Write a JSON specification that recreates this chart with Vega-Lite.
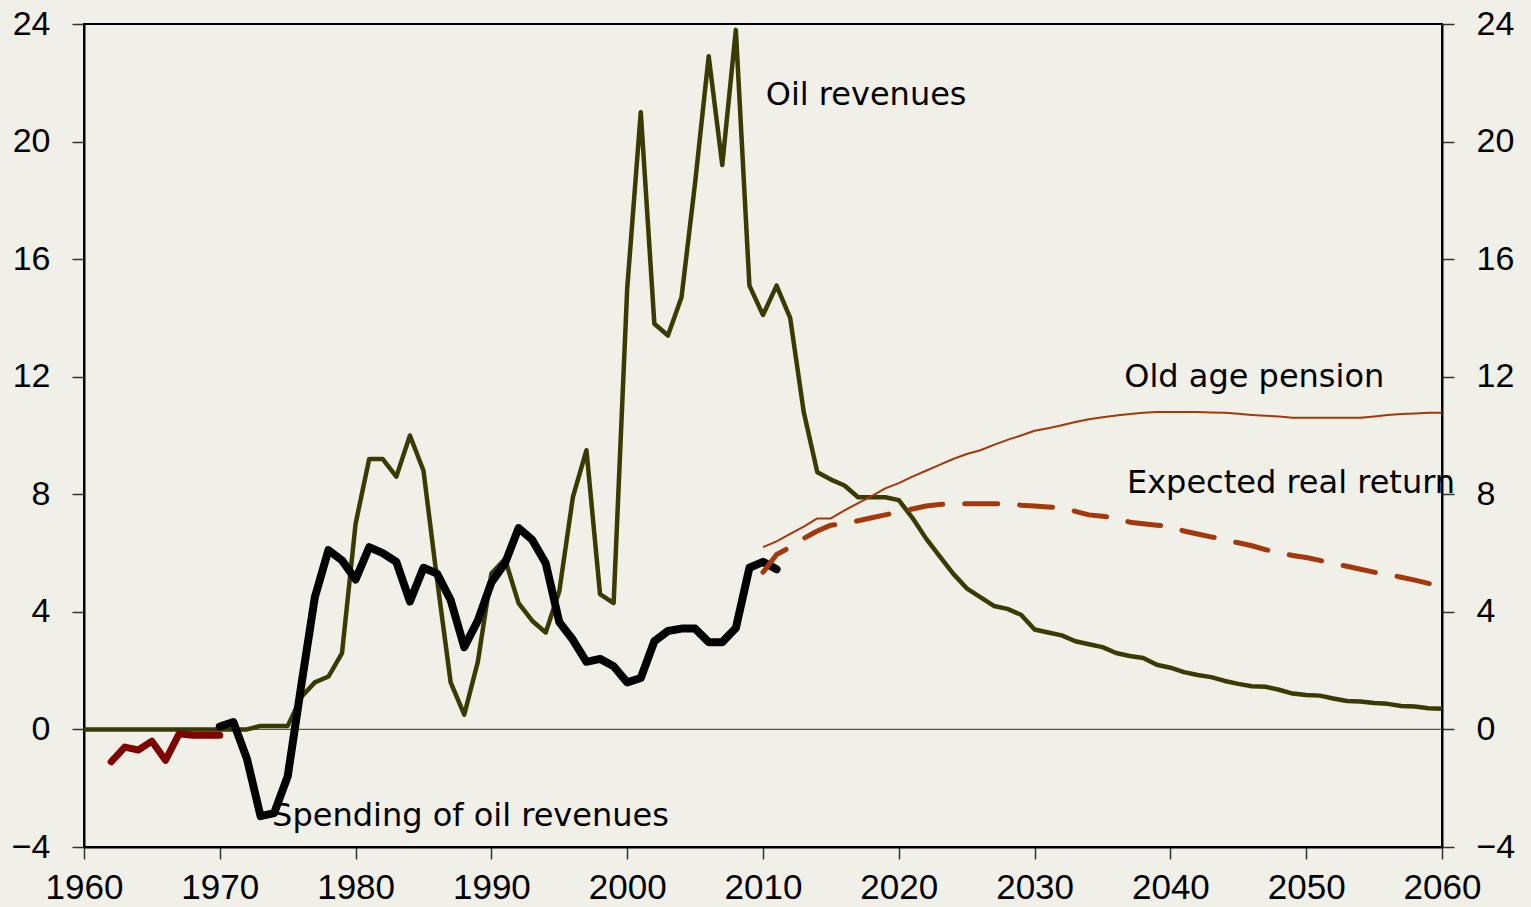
{
  "$schema": "https://vega.github.io/schema/vega-lite/v6.json",
  "width": 1358,
  "height": 823,
  "autosize": {"type": "none"},
  "padding": {"left": 84, "top": 24, "right": 89, "bottom": 60},
  "background": "#F0EFE8",
  "config": {
    "view": {"stroke": "#000", "strokeWidth": 2},
    "axis": {"labelFont": "Liberation Sans", "labelFontSize": 34, "labelColor": "#000", "tickColor": "#333", "tickSize": 12, "tickWidth": 1.5, "domainColor": "#000", "domainWidth": 2, "grid": false, "title": null}
  },
  "data": {"values": [
    {"year": 1960, "oil": 0},
    {"year": 1961, "oil": 0},
    {"year": 1962, "oil": 0, "pre": -1.1},
    {"year": 1963, "oil": 0, "pre": -0.6},
    {"year": 1964, "oil": 0, "pre": -0.7},
    {"year": 1965, "oil": 0, "pre": -0.4},
    {"year": 1966, "oil": 0, "pre": -1.05},
    {"year": 1967, "oil": 0, "pre": -0.15},
    {"year": 1968, "oil": 0, "pre": -0.2},
    {"year": 1969, "oil": 0, "pre": -0.2},
    {"year": 1970, "oil": 0, "pre": -0.2, "spend": 0.1},
    {"year": 1971, "oil": 0, "spend": 0.25},
    {"year": 1972, "oil": 0, "spend": -1.0},
    {"year": 1973, "oil": 0.12, "spend": -2.95},
    {"year": 1974, "oil": 0.12, "spend": -2.85},
    {"year": 1975, "oil": 0.12, "spend": -1.6},
    {"year": 1976, "oil": 1.1, "spend": 1.5},
    {"year": 1977, "oil": 1.6, "spend": 4.5},
    {"year": 1978, "oil": 1.8, "spend": 6.1},
    {"year": 1979, "oil": 2.6, "spend": 5.75},
    {"year": 1980, "oil": 7.0, "spend": 5.1},
    {"year": 1981, "oil": 9.2, "spend": 6.2},
    {"year": 1982, "oil": 9.2, "spend": 6.0},
    {"year": 1983, "oil": 8.6, "spend": 5.7},
    {"year": 1984, "oil": 10.0, "spend": 4.35},
    {"year": 1985, "oil": 8.8, "spend": 5.5},
    {"year": 1986, "oil": 5.1, "spend": 5.3},
    {"year": 1987, "oil": 1.6, "spend": 4.4},
    {"year": 1988, "oil": 0.5, "spend": 2.8},
    {"year": 1989, "oil": 2.3, "spend": 3.7},
    {"year": 1990, "oil": 5.3, "spend": 5.0},
    {"year": 1991, "oil": 5.8, "spend": 5.65},
    {"year": 1992, "oil": 4.3, "spend": 6.85},
    {"year": 1993, "oil": 3.7, "spend": 6.45},
    {"year": 1994, "oil": 3.3, "spend": 5.65},
    {"year": 1995, "oil": 4.7, "spend": 3.65},
    {"year": 1996, "oil": 7.9, "spend": 3.05},
    {"year": 1997, "oil": 9.5, "spend": 2.3},
    {"year": 1998, "oil": 4.6, "spend": 2.4},
    {"year": 1999, "oil": 4.3, "spend": 2.15},
    {"year": 2000, "oil": 15.0, "spend": 1.6},
    {"year": 2001, "oil": 21.0, "spend": 1.75},
    {"year": 2002, "oil": 13.8, "spend": 3.0},
    {"year": 2003, "oil": 13.4, "spend": 3.35},
    {"year": 2004, "oil": 14.7, "spend": 3.43},
    {"year": 2005, "oil": 18.6, "spend": 3.43},
    {"year": 2006, "oil": 22.9, "spend": 2.97},
    {"year": 2007, "oil": 19.2, "spend": 2.97},
    {"year": 2008, "oil": 23.8, "spend": 3.45},
    {"year": 2009, "oil": 15.1, "spend": 5.5},
    {"year": 2010, "oil": 14.1, "spend": 5.7, "pension": 6.2, "ret": 5.35},
    {"year": 2011, "oil": 15.1, "spend": 5.45, "pension": 6.4, "ret": 5.95},
    {"year": 2012, "oil": 14.0, "pension": 6.65, "ret": 6.2},
    {"year": 2013, "oil": 10.8, "pension": 6.9, "ret": 6.5},
    {"year": 2014, "oil": 8.75, "pension": 7.18, "ret": 6.75},
    {"year": 2015, "oil": 8.5, "pension": 7.18, "ret": 6.95},
    {"year": 2016, "oil": 8.3, "pension": 7.45, "ret": 7.0},
    {"year": 2017, "oil": 7.9, "pension": 7.7, "ret": 7.1},
    {"year": 2018, "oil": 7.9, "pension": 7.94, "ret": 7.2},
    {"year": 2019, "oil": 7.9, "pension": 8.2, "ret": 7.3},
    {"year": 2020, "oil": 7.8, "pension": 8.38, "ret": 7.4},
    {"year": 2021, "oil": 7.2, "pension": 8.6, "ret": 7.5},
    {"year": 2022, "oil": 6.5, "pension": 8.8, "ret": 7.6},
    {"year": 2023, "oil": 5.9, "pension": 9.0, "ret": 7.65},
    {"year": 2024, "oil": 5.3, "pension": 9.2, "ret": 7.68},
    {"year": 2025, "oil": 4.8, "pension": 9.37, "ret": 7.68},
    {"year": 2026, "oil": 4.5, "pension": 9.5, "ret": 7.68},
    {"year": 2027, "oil": 4.2, "pension": 9.68, "ret": 7.68},
    {"year": 2028, "oil": 4.1, "pension": 9.85, "ret": 7.68},
    {"year": 2029, "oil": 3.9, "pension": 10.0, "ret": 7.63},
    {"year": 2030, "oil": 3.4, "pension": 10.16, "ret": 7.6},
    {"year": 2031, "oil": 3.3, "pension": 10.25, "ret": 7.57},
    {"year": 2032, "oil": 3.2, "pension": 10.35, "ret": 7.53},
    {"year": 2033, "oil": 3.0, "pension": 10.46, "ret": 7.42},
    {"year": 2034, "oil": 2.9, "pension": 10.55, "ret": 7.3},
    {"year": 2035, "oil": 2.8, "pension": 10.62, "ret": 7.25},
    {"year": 2036, "oil": 2.6, "pension": 10.68, "ret": 7.2},
    {"year": 2037, "oil": 2.5, "pension": 10.73, "ret": 7.05},
    {"year": 2038, "oil": 2.43, "pension": 10.77, "ret": 7.0},
    {"year": 2039, "oil": 2.2, "pension": 10.8, "ret": 6.95},
    {"year": 2040, "oil": 2.1, "pension": 10.8, "ret": 6.9},
    {"year": 2041, "oil": 1.95, "pension": 10.8, "ret": 6.75},
    {"year": 2042, "oil": 1.85, "pension": 10.8, "ret": 6.65},
    {"year": 2043, "oil": 1.78, "pension": 10.78, "ret": 6.55},
    {"year": 2044, "oil": 1.65, "pension": 10.77, "ret": 6.45},
    {"year": 2045, "oil": 1.55, "pension": 10.74, "ret": 6.35},
    {"year": 2046, "oil": 1.47, "pension": 10.7, "ret": 6.25},
    {"year": 2047, "oil": 1.45, "pension": 10.67, "ret": 6.12},
    {"year": 2048, "oil": 1.35, "pension": 10.65, "ret": 6.0},
    {"year": 2049, "oil": 1.22, "pension": 10.6, "ret": 5.92},
    {"year": 2050, "oil": 1.17, "pension": 10.6, "ret": 5.85},
    {"year": 2051, "oil": 1.15, "pension": 10.6, "ret": 5.75},
    {"year": 2052, "oil": 1.05, "pension": 10.6, "ret": 5.65},
    {"year": 2053, "oil": 0.97, "pension": 10.6, "ret": 5.55},
    {"year": 2054, "oil": 0.95, "pension": 10.6, "ret": 5.45},
    {"year": 2055, "oil": 0.9, "pension": 10.65, "ret": 5.35},
    {"year": 2056, "oil": 0.87, "pension": 10.7, "ret": 5.27},
    {"year": 2057, "oil": 0.8, "pension": 10.73, "ret": 5.18},
    {"year": 2058, "oil": 0.78, "pension": 10.75, "ret": 5.08},
    {"year": 2059, "oil": 0.72, "pension": 10.77, "ret": 4.97},
    {"year": 2060, "oil": 0.7, "pension": 10.77, "ret": 4.85}
  ]},
  "encoding": {
    "x": {"field": "year", "type": "quantitative", "scale": {"domain": [1960, 2060], "nice": false, "zero": false},
      "axis": {"values": [1960, 1970, 1980, 1990, 2000, 2010, 2020, 2030, 2040, 2050, 2060], "format": "d", "labelPadding": 11, "labelFontSize": 35, "labelFlush": false, "labelOverlap": false}}
  },
  "layer": [
    {"transform": [{"filter": "datum.year == 1960"}], "mark": {"type": "rule", "color": "#555", "strokeWidth": 1.2},
      "encoding": {"x": {"datum": 1960}, "x2": {"datum": 2060}, "y": {"datum": 0, "type": "quantitative", "scale": {"domain": [-4, 24], "nice": false}, "axis": {"orient": "left", "values": [-4, 0, 4, 8, 12, 16, 20, 24], "labelPadding": 22}}}},
    {"mark": {"type": "line", "color": "#3A3A03", "strokeWidth": 4.5, "strokeJoin": "round", "strokeCap": "butt"},
      "encoding": {"y": {"field": "oil", "type": "quantitative", "axis": {"orient": "right", "values": [-4, 0, 4, 8, 12, 16, 20, 24], "labelPadding": 22}}}},
    {"mark": {"type": "line", "color": "#000000", "strokeWidth": 8, "strokeJoin": "round", "strokeCap": "round"},
      "encoding": {"y": {"field": "spend", "type": "quantitative", "axis": null}}},
    {"mark": {"type": "line", "color": "#7E0303", "strokeWidth": 7, "strokeJoin": "round", "strokeCap": "round"},
      "encoding": {"y": {"field": "pre", "type": "quantitative", "axis": null}}},
    {"mark": {"type": "line", "color": "#A3390A", "strokeWidth": 2, "strokeJoin": "round"},
      "encoding": {"y": {"field": "pension", "type": "quantitative", "axis": null}}},
    {"mark": {"type": "line", "color": "#A3390A", "strokeWidth": 5, "strokeDash": [33, 22], "strokeCap": "round", "strokeJoin": "round"},
      "encoding": {"y": {"field": "ret", "type": "quantitative", "axis": null}}},
    {"transform": [{"filter": "datum.year == 1960"}], "mark": {"type": "text", "text": "Oil revenues", "font": "DejaVu Sans", "fontSize": 32, "align": "left", "baseline": "middle", "color": "#000"},
      "encoding": {"x": {"datum": 2010.2}, "y": {"datum": 21.6, "type": "quantitative", "axis": null}}},
    {"transform": [{"filter": "datum.year == 1960"}], "mark": {"type": "text", "text": "Old age pension", "font": "DejaVu Sans", "fontSize": 32, "align": "left", "baseline": "middle", "color": "#000"},
      "encoding": {"x": {"datum": 2036.6}, "y": {"datum": 12.0, "type": "quantitative", "axis": null}}},
    {"transform": [{"filter": "datum.year == 1960"}], "mark": {"type": "text", "text": "Expected real return", "font": "DejaVu Sans", "fontSize": 32, "align": "left", "baseline": "middle", "color": "#000"},
      "encoding": {"x": {"datum": 2036.8}, "y": {"datum": 8.4, "type": "quantitative", "axis": null}}},
    {"transform": [{"filter": "datum.year == 1960"}], "mark": {"type": "text", "text": "Spending of oil revenues", "font": "DejaVu Sans", "fontSize": 32, "align": "left", "baseline": "middle", "color": "#000"},
      "encoding": {"x": {"datum": 1973.85}, "y": {"datum": -2.95, "type": "quantitative", "axis": null}}}
  ],
  "resolve": {"axis": {"y": "independent"}}
}
